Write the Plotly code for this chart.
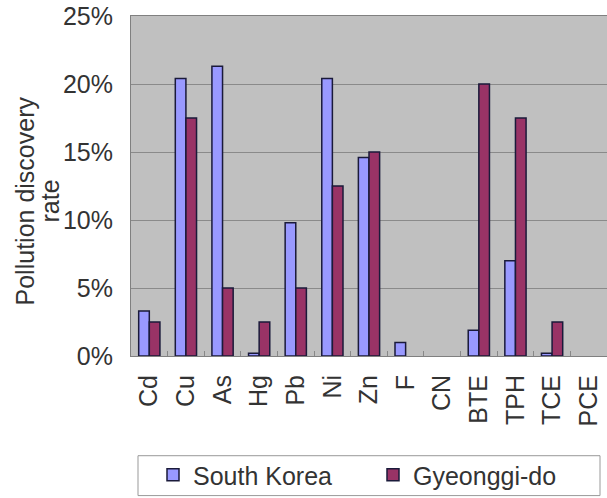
import plotly.graph_objects as go

categories = ["Cd", "Cu", "As", "Hg", "Pb", "Ni", "Zn", "F", "CN", "BTE", "TPH", "TCE", "PCE"]
south_korea = [3.3, 20.4, 21.3, 0.2, 9.8, 20.4, 14.6, 1.0, 0, 1.9, 7.0, 0.2, 0]
gyeonggi = [2.5, 17.5, 5.0, 2.5, 5.0, 12.5, 15.0, 0, 0, 20.0, 17.5, 2.5, 0]
y_ticks = [0, 5, 10, 15, 20, 25]
y_tick_labels = ["0%", "5%", "10%", "15%", "20%", "25%"]
y_title_lines = ["Pollution discovery", "rate"]


def hide_zero(values):
    return [v if v != 0 else None for v in values]


font_family = "Liberation Sans, Arial, sans-serif"
FS = 25
TXT = "#333333"
fig = go.Figure()
fig.add_trace(go.Bar(x=categories, y=hide_zero(south_korea), name="South Korea",
                     marker=dict(color="#9999ff", line=dict(color="#1a1a3a", width=1.5))))
fig.add_trace(go.Bar(x=categories, y=hide_zero(gyeonggi), name="Gyeonggi-do",
                     marker=dict(color="#993366", line=dict(color="#1a1a3a", width=1.5))))

L, T, B, W, H = 131, 16, 141, 607, 498
pw, ph = W - L, H - T - B


def px_x(x):
    return (x - L) / pw


def px_y(y):
    return (H - B - y) / ph


fig.add_shape(type="rect", xref="paper", yref="paper",
              x0=px_x(138), x1=px_x(600), y0=px_y(457), y1=px_y(497),
              line=dict(color="#999999", width=1), fillcolor="white", layer="below")

for line_text, cx in zip(y_title_lines, [25, 50]):
    fig.add_annotation(text=line_text, xref="paper", yref="paper",
                       x=px_x(cx), y=px_y(202), xanchor="center", yanchor="middle",
                       textangle=-90, showarrow=False,
                       font=dict(size=FS, color=TXT, family=font_family))

fig.update_layout(
    width=W, height=H,
    margin=dict(l=L, r=0, t=T, b=B),
    paper_bgcolor="white", plot_bgcolor="#c0c0c0",
    barmode="group", bargap=0.42, bargroupgap=0,
    font=dict(family=font_family, size=FS, color=TXT),
    showlegend=True,
    legend=dict(orientation="h", x=px_x(153), y=px_y(477), xanchor="left", yanchor="middle",
                borderwidth=0, bgcolor="rgba(0,0,0,0)",
                font=dict(size=FS, color=TXT), entrywidth=175, entrywidthmode="pixels",
                itemwidth=30),
    xaxis=dict(type="category", tickangle=-90, showgrid=False,
               ticks="inside", tickson="boundaries", ticklen=5, tickcolor="#888888",
               showline=True, linecolor="#808080", linewidth=1, mirror=True,
               ticklabelstandoff=8,
               tickfont=dict(size=FS, color=TXT)),
    yaxis=dict(range=[0, 25], tickvals=y_ticks, ticktext=y_tick_labels,
               showgrid=True, gridcolor="#8a8a8a", gridwidth=1,
               showline=True, linecolor="#808080", linewidth=1, mirror=True,
               ticks="", ticklen=0, zeroline=False, ticklabelstandoff=12,
               tickfont=dict(size=FS, color=TXT)),
)
fig.write_html("out.html")
